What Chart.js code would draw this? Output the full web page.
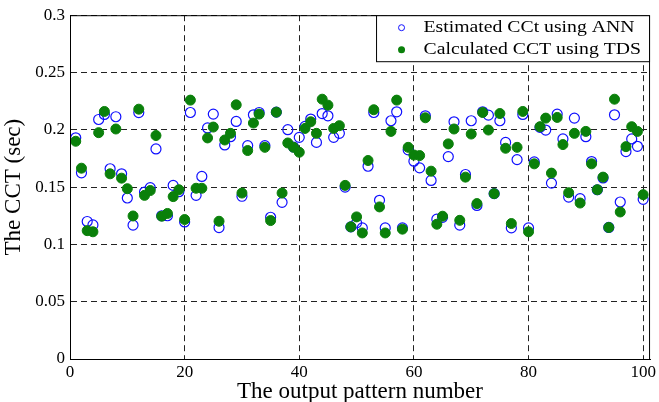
<!DOCTYPE html>
<html>
<head>
<meta charset="utf-8">
<script src="https://cdn.jsdelivr.net/npm/chart.js@4.4.0/dist/chart.umd.min.js"></script>
<style>
  html, body { margin: 0; padding: 0; background: #fff; }
</style>
</head>
<body>
<canvas id="cct" width="659" height="402"></canvas>
<script>
const patternNumbers = [
  1, 2, 3, 4, 5, 6, 7, 8, 9, 10, 11, 12, 13, 14, 15, 16, 17, 18, 19, 20,
  21, 22, 23, 24, 25, 26, 27, 28, 29, 30, 31, 32, 33, 34, 35, 36, 37, 38, 39, 40,
  41, 42, 43, 44, 45, 46, 47, 48, 49, 50, 51, 52, 53, 54, 55, 56, 57, 58, 59, 60,
  61, 62, 63, 64, 65, 66, 67, 68, 69, 70, 71, 72, 73, 74, 75, 76, 77, 78, 79, 80,
  81, 82, 83, 84, 85, 86, 87, 88, 89, 90, 91, 92, 93, 94, 95, 96, 97, 98, 99, 100
];
const annCct = [
  0.193, 0.1625, 0.120, 0.117, 0.209, 0.2134, 0.166, 0.2114, 0.1616, 0.1405,
  0.1168, 0.215, 0.1457, 0.1495, 0.1833, 0.125, 0.125, 0.1515, 0.146, 0.1196,
  0.2151, 0.1428, 0.1593, 0.2016, 0.2137, 0.1147, 0.1868, 0.194, 0.2073, 0.142,
  0.1862, 0.2131, 0.2151, 0.1862, 0.1237, 0.2154, 0.1367, 0.2001, 0.185, 0.1934,
  0.203, 0.2094, 0.189, 0.2142, 0.2122, 0.1934, 0.1969, 0.150, 0.1153, 0.1188,
  0.1144, 0.1682, 0.2151, 0.1385, 0.1144, 0.2079, 0.2157, 0.1144, 0.1825, 0.1726,
  0.1668, 0.2122, 0.1558, 0.122, 0.1236, 0.1766, 0.207, 0.1168, 0.161, 0.2079,
  0.134, 0.2157, 0.2128, 0.1443, 0.2079, 0.189, 0.1144, 0.174, 0.2134, 0.1144,
  0.172, 0.2021, 0.1998, 0.1535, 0.2137, 0.192, 0.1413, 0.2102, 0.1399, 0.194,
  0.1723, 0.1477, 0.158, 0.1148, 0.2131, 0.137, 0.181, 0.192, 0.1856, 0.1393
];
const tdsCct = [
  0.190, 0.1665, 0.112, 0.111, 0.1975, 0.216, 0.1616, 0.2007, 0.1578, 0.1486,
  0.1248, 0.218, 0.1428, 0.147, 0.195, 0.1246, 0.127, 0.1417, 0.1477, 0.1217,
  0.2259, 0.149, 0.149, 0.1929, 0.2024, 0.1202, 0.1911, 0.1969, 0.2218, 0.1448,
  0.1819, 0.2059, 0.2137, 0.1847, 0.1208, 0.2154, 0.1448, 0.1885, 0.1847, 0.1804,
  0.2012, 0.207, 0.1969, 0.2267, 0.2215, 0.2012, 0.2036, 0.1515, 0.1153, 0.124,
  0.110, 0.1732, 0.2175, 0.1327, 0.110, 0.1986, 0.2259, 0.1133, 0.1847, 0.178,
  0.1775, 0.2105, 0.1639, 0.1176, 0.1246, 0.1877, 0.2007, 0.121, 0.1587, 0.1963,
  0.1356, 0.2151, 0.1998, 0.1443, 0.2142, 0.1839, 0.1182, 0.1847, 0.216, 0.111,
  0.1703, 0.2027, 0.2102, 0.1622, 0.2108, 0.1871, 0.1451, 0.1969, 0.1361, 0.1986,
  0.1703, 0.1477, 0.1587, 0.1148, 0.2267, 0.1283, 0.1853, 0.2027, 0.1986, 0.1434
];
const seriesNames = ['Estimated CCt using ANN', 'Calculated CCT using TDS'];
const xTicks = [0, 20, 40, 60, 80, 100];
const yTicks = [0, 0.05, 0.1, 0.15, 0.2, 0.25, 0.3];
const yTickLabels = ['0', '0.05', '0.1', '0.15', '0.2', '0.25', '0.3'];

const serif = 'Liberation Serif, Times New Roman, serif';
const annBlue = '#1010ff';
const tdsGreen = '#0a800a';

// solid box round the plot plus a matlab style legend in the top right corner
const frameAndLegend = {
  id: 'frameAndLegend',
  afterDatasetsDraw(chart) {
    const { ctx, chartArea: a } = chart;
    ctx.save();
    ctx.setLineDash([]);
    ctx.strokeStyle = '#000';
    ctx.lineWidth = 1;
    ctx.strokeRect(a.left + 0.5, a.top + 0.5, a.right - a.left - 1, a.bottom - a.top);

    const bw = 273, bh = 46;
    const bx = a.right - bw - 0.5, by = a.top + 0.5;
    ctx.fillStyle = '#fff';
    ctx.fillRect(bx, by, bw, bh);
    ctx.strokeRect(bx, by, bw, bh);

    const rows = [by + 12, by + 34];
    // ANN marker
    ctx.beginPath();
    ctx.arc(bx + 25, rows[0], 3, 0, Math.PI * 2);
    ctx.strokeStyle = annBlue;
    ctx.stroke();
    // TDS marker
    ctx.beginPath();
    ctx.arc(bx + 25, rows[1], 3.5, 0, Math.PI * 2);
    ctx.fillStyle = tdsGreen;
    ctx.fill();

    // the reference text is a little wide, so stretch it sideways
    ctx.font = '17px ' + serif;
    ctx.textBaseline = 'middle';
    ctx.fillStyle = '#000';
    seriesNames.forEach((name, i) => {
      ctx.save();
      ctx.translate(bx + 47, rows[i]);
      ctx.scale(1.16, 1);
      ctx.fillText(name, 0, 0);
      ctx.restore();
    });
    ctx.restore();
  }
};

const toPoints = (vals) => vals.map((v, i) => ({ x: patternNumbers[i], y: v }));

new Chart(document.getElementById('cct'), {
  type: 'scatter',
  data: {
    datasets: [
      {
        label: seriesNames[0],
        data: toPoints(annCct),
        pointRadius: 5,
        pointBorderWidth: 1.2,
        borderColor: annBlue,
        backgroundColor: 'rgba(0,0,0,0)',
        order: 2
      },
      {
        label: seriesNames[1],
        data: toPoints(tdsCct),
        pointRadius: 5,
        pointBorderWidth: 1,
        borderColor: tdsGreen,
        backgroundColor: tdsGreen,
        order: 1
      }
    ]
  },
  options: {
    responsive: false,
    animation: false,
    devicePixelRatio: 1,
    layout: { padding: { top: 14, right: 7, left: 0, bottom: 0 } },
    plugins: {
      legend: { display: false },
      tooltip: { enabled: false }
    },
    scales: {
      x: {
        type: 'linear',
        min: 0,
        max: 101.2,
        afterBuildTicks: (s) => { s.ticks = xTicks.map(v => ({ value: v })); },
        afterFit: (s) => { s.height = 43; },
        grid: { color: '#222', lineWidth: 1, drawTicks: false },
        border: { display: true, color: '#000', dash: [6, 4] },
        ticks: {
          font: { family: serif, size: 17 },
          color: '#000',
          padding: 3,
          maxRotation: 0,
          autoSkip: false
        },
        title: {
          display: true,
          text: 'The output pattern number',
          font: { family: serif, size: 23, lineHeight: 0.9 },
          color: '#000',
          padding: { top: 0, bottom: 0 }
        }
      },
      y: {
        min: 0,
        max: 0.3,
        afterBuildTicks: (s) => { s.ticks = yTicks.map(v => ({ value: v })); },
        afterFit: (s) => { s.width = 70; },
        grid: { color: '#222', lineWidth: 1, drawTicks: false },
        border: { display: true, color: '#000', dash: [6, 4] },
        ticks: {
          font: { family: serif, size: 17 },
          color: '#000',
          padding: 5,
          callback: (v, i) => yTickLabels[i]
        },
        title: {
          display: true,
          text: 'The CCT (sec)',
          font: { family: serif, size: 23, lineHeight: 1 },
          color: '#000',
          padding: { top: 2, bottom: 0 }
        }
      }
    }
  },
  plugins: [frameAndLegend]
});
</script>
</body>
</html>
